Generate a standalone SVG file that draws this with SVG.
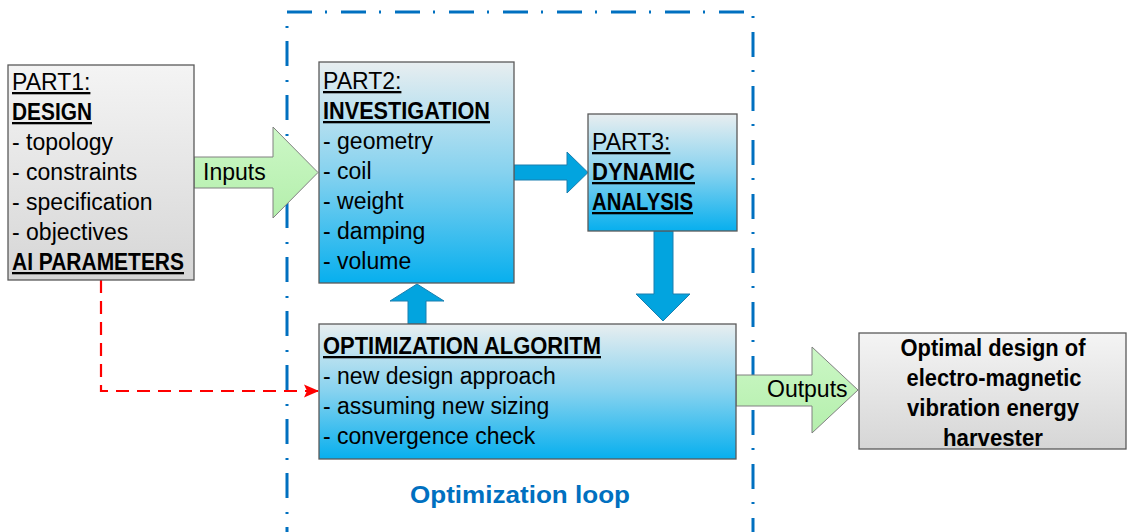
<svg xmlns="http://www.w3.org/2000/svg" width="1127" height="532" viewBox="0 0 1127 532">
<defs>
<linearGradient id="gGray" x1="0" y1="0" x2="0" y2="1">
<stop offset="0" stop-color="#F4F4F4"/>
<stop offset="1" stop-color="#D6D6D6"/>
</linearGradient>
<linearGradient id="gBlue" x1="0" y1="0" x2="0" y2="1">
<stop offset="0" stop-color="#E8EEF0"/>
<stop offset="0.5" stop-color="#86D2EF"/>
<stop offset="1" stop-color="#07AFEE"/>
</linearGradient>
<linearGradient id="gGreen" x1="0" y1="0" x2="0" y2="1">
<stop offset="0" stop-color="#CCF7C6"/>
<stop offset="1" stop-color="#B4EFAC"/>
</linearGradient>
<marker id="redHead" markerWidth="16" markerHeight="14" refX="15" refY="7" orient="auto" markerUnits="userSpaceOnUse">
<path d="M0,0.5 L15,7 L0,13.5 L3,7 Z" fill="#FF0000"/>
</marker>
</defs>
<style>
.t{font-family:"Liberation Sans",Arial,sans-serif;font-size:23px;fill:#000}
.b{font-weight:bold}
.u{text-decoration:underline}
.box{stroke:#5A5A5A;stroke-width:1.3}
.garrow{fill:url(#gGreen);stroke:#808080;stroke-width:1}
.barrow{fill:#02A4DF;stroke:#1A7FAF;stroke-width:1}
.loop{fill:none;stroke:#0070C0;stroke-width:3;stroke-dasharray:25 13 2 14}
</style>
<g id="loop">
<rect class="loop" x="287" y="12" width="466" height="560"/>
<text x="520" y="503" text-anchor="middle" style="font-family:'Liberation Sans',Arial,sans-serif;font-size:23px;font-weight:bold;fill:#0070C0" textLength="220" lengthAdjust="spacingAndGlyphs">Optimization loop</text>
</g>
<g id="connectors">
<path d="M101 280 V391 H319" fill="none" stroke="#FF0000" stroke-width="2.2" stroke-dasharray="13 8" marker-end="url(#redHead)"/>
<path class="garrow" d="M194 157 H273 V127 L318 172.5 L273 218 V188 H194 Z"/>
<text class="t" x="203" y="180">Inputs</text>
<path class="barrow" d="M514 165 H567 V152 L588 172.5 L567 193 V180 H514 Z"/>
<path class="barrow" d="M654 231 V294 H636 L663 321 L690 294 H673 V231 Z"/>
<path class="barrow" d="M408 324 V301 H390 L417 284 L444 301 H426 V324 Z"/>
<path class="garrow" d="M736 375 H812 V347 L858 390 L812 433 V406 H736 Z"/>
<text class="t" x="767" y="397">Outputs</text>
</g>
<g id="part1">
<rect class="box" x="8" y="65" width="186" height="215" fill="url(#gGray)"/>
<text class="t u" x="12" y="90">PART1:</text>
<text class="t b u" x="12" y="120" textLength="80" lengthAdjust="spacingAndGlyphs">DESIGN</text>
<text class="t" x="12" y="150">- topology</text>
<text class="t" x="12" y="180">- constraints</text>
<text class="t" x="12" y="210">- specification</text>
<text class="t" x="12" y="240">- objectives</text>
<text class="t b u" x="12" y="270" textLength="172" lengthAdjust="spacingAndGlyphs">AI PARAMETERS</text>
</g>
<g id="part2">
<rect class="box" x="319" y="62" width="195" height="221" fill="url(#gBlue)"/>
<text class="t u" x="323" y="89">PART2:</text>
<text class="t b u" x="323" y="119" textLength="167" lengthAdjust="spacingAndGlyphs">INVESTIGATION</text>
<text class="t" x="323" y="149">- geometry</text>
<text class="t" x="323" y="179">- coil</text>
<text class="t" x="323" y="209">- weight</text>
<text class="t" x="323" y="239">- damping</text>
<text class="t" x="323" y="269">- volume</text>
</g>
<g id="part3">
<rect class="box" x="588" y="114" width="149" height="117" fill="url(#gBlue)"/>
<text class="t u" x="592" y="150">PART3:</text>
<text class="t b u" x="592" y="180" textLength="103" lengthAdjust="spacingAndGlyphs">DYNAMIC</text>
<text class="t b u" x="592" y="210" textLength="101" lengthAdjust="spacingAndGlyphs">ANALYSIS</text>
</g>
<g id="optimization">
<rect class="box" x="319" y="324" width="417" height="135" fill="url(#gBlue)"/>
<text class="t b u" x="323" y="354" textLength="278" lengthAdjust="spacingAndGlyphs">OPTIMIZATION ALGORITM</text>
<text class="t" x="323" y="384">- new design approach</text>
<text class="t" x="323" y="414">- assuming new sizing</text>
<text class="t" x="323" y="444">- convergence check</text>
</g>
<g id="result">
<rect class="box" x="859" y="333" width="267" height="116" fill="url(#gGray)"/>
<text class="t b" x="993" y="356" text-anchor="middle" textLength="185" lengthAdjust="spacingAndGlyphs">Optimal design of</text>
<text class="t b" x="994" y="386" text-anchor="middle" textLength="175" lengthAdjust="spacingAndGlyphs">electro-magnetic</text>
<text class="t b" x="993" y="416" text-anchor="middle" textLength="172" lengthAdjust="spacingAndGlyphs">vibration energy</text>
<text class="t b" x="993" y="446" text-anchor="middle" textLength="100" lengthAdjust="spacingAndGlyphs">harvester</text>
</g>
</svg>
